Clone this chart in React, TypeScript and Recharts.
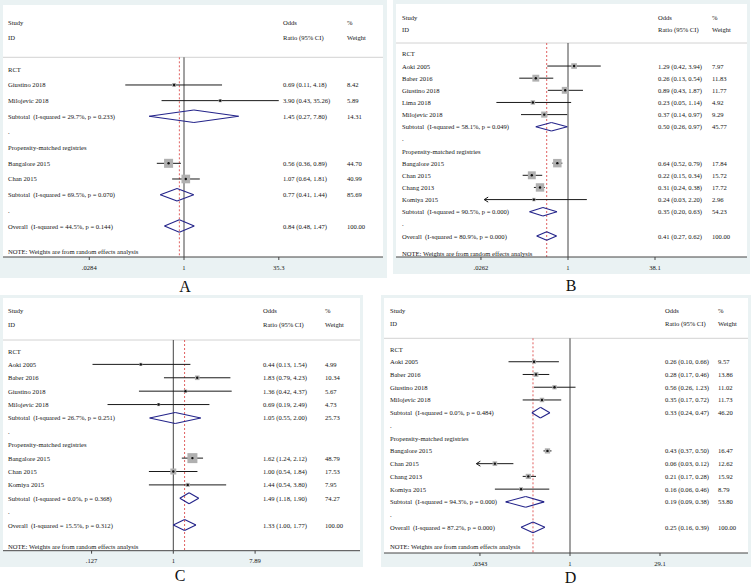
import React from 'react'
import { ComposedChart, XAxis, YAxis, Scatter, ReferenceLine } from 'recharts'

// panel A
const A_LABELS = ['RCT', 'Giustino 2018', 'Milojevic 2018', 'Subtotal  (I-squared = 29.7%, p = 0.233)', '.', 'Propensity-matched registries', 'Bangalore 2015', 'Chan 2015', 'Subtotal  (I-squared = 69.5%, p = 0.070)', '.', 'Overall  (I-squared = 44.5%, p = 0.144)']
const A_OR = [null, 0.69, 3.9, 1.45, null, null, 0.56, 1.07, 0.77, null, 0.84]
const A_LO = [null, 0.11, 0.43, 0.27, null, null, 0.36, 0.64, 0.41, null, 0.48]
const A_HI = [null, 4.18, 35.26, 7.8, null, null, 0.89, 1.81, 1.44, null, 1.47]
const A_WT = [null, 8.42, 5.89, 14.31, null, null, 44.7, 40.99, 85.69, null, 100]
const A_TICKS = [0.0284, 1, 35.3]
const A_TICK_LABELS = ['.0284', '1', '35.3']

// panel B
const B_LABELS = ['RCT', 'Aoki 2005', 'Baber 2016', 'Giustino 2018', 'Lima 2018', 'Milojevic 2018', 'Subtotal  (I-squared = 58.1%, p = 0.049)', '.', 'Propensity-matched registries', 'Bangalore 2015', 'Chan 2015', 'Chang 2013', 'Komiya 2015', 'Subtotal  (I-squared = 90.5%, p = 0.000)', '.', 'Overall  (I-squared = 80.9%, p = 0.000)']
const B_OR = [null, 1.29, 0.26, 0.89, 0.23, 0.37, 0.5, null, null, 0.64, 0.22, 0.31, 0.24, 0.35, null, 0.41]
const B_LO = [null, 0.42, 0.13, 0.43, 0.05, 0.14, 0.26, null, null, 0.52, 0.15, 0.24, 0.03, 0.2, null, 0.27]
const B_HI = [null, 3.94, 0.54, 1.87, 1.14, 0.97, 0.97, null, null, 0.79, 0.34, 0.38, 2.2, 0.63, null, 0.62]
const B_WT = [null, 7.97, 11.83, 11.77, 4.92, 9.29, 45.77, null, null, 17.84, 15.72, 17.72, 2.96, 54.23, null, 100]
const B_TICKS = [0.0262, 1, 38.1]
const B_TICK_LABELS = ['.0262', '1', '38.1']
const B_CLIPPED = ['Komiya 2015']

// panel C
const C_LABELS = ['RCT', 'Aoki 2005', 'Baber 2016', 'Giustino 2018', 'Milojevic 2018', 'Subtotal  (I-squared = 26.7%, p = 0.251)', '.', 'Propensity-matched registries', 'Bangalore 2015', 'Chan 2015', 'Komiya 2015', 'Subtotal  (I-squared = 0.0%, p = 0.368)', '.', 'Overall  (I-squared = 15.5%, p = 0.312)']
const C_OR = [null, 0.44, 1.83, 1.36, 0.69, 1.05, null, null, 1.62, 1.0, 1.44, 1.49, null, 1.33]
const C_LO = [null, 0.13, 0.79, 0.42, 0.19, 0.55, null, null, 1.24, 0.54, 0.54, 1.18, null, 1.0]
const C_HI = [null, 1.54, 4.23, 4.37, 2.49, 2.0, null, null, 2.12, 1.84, 3.8, 1.9, null, 1.77]
const C_WT = [null, 4.99, 10.34, 5.67, 4.73, 25.73, null, null, 48.79, 17.53, 7.95, 74.27, null, 100]
const C_TICKS = [0.127, 1, 7.89]
const C_TICK_LABELS = ['.127', '1', '7.89']

// panel D
const D_LABELS = ['RCT', 'Aoki 2005', 'Baber 2016', 'Giustino 2018', 'Milojevic 2018', 'Subtotal  (I-squared = 0.0%, p = 0.484)', '.', 'Propensity-matched registries', 'Bangalore 2015', 'Chan 2015', 'Chang 2013', 'Komiya 2015', 'Subtotal  (I-squared = 94.3%, p = 0.000)', '.', 'Overall  (I-squared = 87.2%, p = 0.000)']
const D_OR = [null, 0.26, 0.28, 0.56, 0.35, 0.33, null, null, 0.43, 0.06, 0.21, 0.16, 0.19, null, 0.25]
const D_LO = [null, 0.1, 0.17, 0.26, 0.17, 0.24, null, null, 0.37, 0.03, 0.17, 0.06, 0.09, null, 0.16]
const D_HI = [null, 0.66, 0.46, 1.23, 0.72, 0.47, null, null, 0.5, 0.12, 0.28, 0.46, 0.38, null, 0.39]
const D_WT = [null, 9.57, 13.86, 11.02, 11.73, 46.2, null, null, 16.47, 12.62, 15.92, 8.79, 53.8, null, 100]
const D_TICKS = [0.0343, 1, 29.1]
const D_TICK_LABELS = ['.0343', '1', '29.1']
const D_CLIPPED = ['Chan 2015']

const NOTE = 'NOTE: Weights are from random effects analysis'

// page-pixel layout of each panel
const LAYOUT = {
  A: { left: 0, top: 0, width: 387, height: 278, pl: 3, pr: 383, pt: 5, pb: 257, row0: 69.3, rowH: 15.67, headY: 57.3, noteY: 251.7, nullX: 184, pxPerLn: 26.6, cols: [8, 283, 347], box: 1.35, dia: 0.4, letter: [185, 287], name: 'A' },
  B: { left: 393, top: 0, width: 357, height: 274, pl: 396, pr: 747, pt: 4, pb: 257, row0: 53.9, rowH: 12.14, headY: 43, noteY: 253, nullX: 568, pxPerLn: 23.9, cols: [402, 658, 712], box: 2.0, dia: 0.35, letter: [571, 286], name: 'B' },
  C: { left: 0, top: 295, width: 363, height: 272, pl: 3, pr: 360, pt: 298, pb: 550.7, row0: 351, rowH: 13.39, headY: 340, noteY: 546.5, nullX: 173.3, pxPerLn: 39.6, cols: [8, 263, 325], box: 1.43, dia: 0.41, letter: [180, 576], name: 'C' },
  D: { left: 381, top: 295, width: 370, height: 272, pl: 384, pr: 748, pt: 298, pb: 553, row0: 349, rowH: 12.74, headY: 338.3, noteY: 546.7, nullX: 570, pxPerLn: 26.7, cols: [390, 665, 718], box: 1.3, dia: 0.42, letter: [570.5, 578], name: 'D' },
}

const FONT = '"Liberation Serif", "Times New Roman", serif'
const TXT = '#151515'
const NAVY = '#24248a'
const BAND = '#eaf2f3'

const ln = Math.log
const f2 = (v: number) => v.toFixed(2)

function ForestPanel({ lay, labels, or, lo, hi, wt, ticks, tickLabels, clipped = [] }: any) {
  const toRow = (py: number) => (py - lay.row0) / lay.rowH
  const xMin = (lay.pl - lay.nullX) / lay.pxPerLn
  const xMax = (lay.pr - lay.nullX) / lay.pxPerLn
  const yMin = toRow(lay.pt)
  const yMax = toRow(lay.pb)
  const headRow = toRow(lay.headY)
  const noteRow = toRow(lay.noteY)
  const cols = lay.cols.map((c: number) => c - lay.left)

  const isPooled = (l: string) => l.startsWith('Subtotal') || l.startsWith('Overall')
  const studies: any[] = []
  const pooled: any[] = []
  labels.forEach((l: string, i: number) => {
    if (or[i] == null) return
    const d = { x: ln(or[i]), y: i, lo: ln(lo[i]), hi: ln(hi[i]), w: wt[i], clip: clipped.includes(l) }
    if (isPooled(l)) pooled.push(d)
    else studies.push(d)
  })
  const overall = pooled[pooled.length - 1]

  // text rows, placed vertically through the y scale
  const textRows = [
    { y: -3, a: 'Study', b: 'Odds', c: '%' },
    { y: -2, a: 'ID', b: 'Ratio (95% CI)', c: 'Weight' },
    ...labels.map((l: string, i: number) => ({
      y: i,
      a: l,
      b: or[i] == null ? '' : `${f2(or[i])} (${f2(lo[i])}, ${f2(hi[i])})`,
      c: wt[i] == null ? '' : f2(wt[i]),
    })),
    { y: noteRow, a: NOTE, b: '', c: '' },
  ].map((t) => ({ ...t, x: xMin }))

  const txtProps = { fontFamily: FONT, fontSize: 6.6, fill: TXT, dominantBaseline: 'central' as const, style: { whiteSpace: 'pre' as const } }

  const RowText = (p: any) => {
    const row = p.payload
    return (
      <g>
        <text x={cols[0]} y={p.cy} {...txtProps}>{row.a}</text>
        {row.b && <text x={cols[1]} y={p.cy} {...txtProps}>{row.b}</text>}
        {row.c && <text x={cols[2]} y={p.cy} {...txtProps}>{row.c}</text>}
      </g>
    )
  }

  const ml = lay.pl - lay.left
  const mr = lay.left + lay.width - lay.pr
  const mt = lay.pt - lay.top
  const xh = lay.top + lay.height - lay.pb

  return (
    <div style={{ position: 'absolute', left: lay.left, top: lay.top, width: lay.width, height: lay.height, background: BAND }}>
      <div style={{ position: 'absolute', left: ml, top: mt, width: lay.pr - lay.pl, height: lay.pb - lay.pt, background: '#fff' }} />
      <div style={{ position: 'absolute', left: 0, top: 0 }}>
        <ComposedChart width={lay.width} height={lay.height} margin={{ top: mt, right: mr, left: ml, bottom: 0 }}>
          <XAxis
            type="number"
            dataKey="x"
            domain={[xMin, xMax]}
            allowDataOverflow
            ticks={ticks.map((t: number) => ln(t))}
            tickFormatter={(_v: number, i: number) => tickLabels[i]}
            height={xh}
            axisLine={{ stroke: '#444' }}
            tickLine={{ stroke: '#444' }}
            tickSize={3}
            tickMargin={5}
            interval={0}
            tick={{ fontSize: 6.6, fill: TXT, fontFamily: FONT }}
          />
          <YAxis type="number" dataKey="y" domain={[yMin, yMax]} reversed allowDataOverflow hide />
          <ReferenceLine y={headRow} stroke="#d2d2d2" ifOverflow="visible" />
          <Scatter data={textRows} isAnimationActive={false} shape={RowText} />
          <Scatter
            data={studies}
            isAnimationActive={false}
            shape={(p: any) => {
              const s = lay.box * Math.sqrt(p.payload.w)
              return <rect x={p.cx - s / 2} y={p.cy - s / 2} width={s} height={s} fill="#b0b0b0" />
            }}
          />
          <ReferenceLine segment={[{ x: 0, y: headRow }, { x: 0, y: yMax }]} stroke="#444" ifOverflow="visible" />
          <ReferenceLine segment={[{ x: overall.x, y: headRow }, { x: overall.x, y: yMax }]} stroke="#e06060" strokeDasharray="2 2" ifOverflow="visible" />
          {studies.map((d) => (
            <ReferenceLine key={'ci' + d.y} segment={[{ x: d.lo, y: d.y }, { x: d.hi, y: d.y }]} stroke="#1a1a1a" ifOverflow="visible" />
          ))}
          {pooled.flatMap((d) => {
            const h = lay.dia
            const pts = [
              { x: d.lo, y: d.y },
              { x: d.x, y: d.y - h },
              { x: d.hi, y: d.y },
              { x: d.x, y: d.y + h },
            ]
            return pts.map((p0, k) => {
              const p1 = pts[(k + 1) % 4]
              return <ReferenceLine key={`dm${d.y}-${k}`} segment={[p0, p1]} stroke={NAVY} strokeWidth={1.1} ifOverflow="visible" />
            })
          })}
          <Scatter
            data={studies}
            isAnimationActive={false}
            shape={(p: any) => <circle cx={p.cx} cy={p.cy} r={1.2} fill="#111" />}
          />
          <Scatter
            data={studies.filter((d) => d.clip).map((d) => ({ x: d.lo, y: d.y }))}
            isAnimationActive={false}
            shape={(p: any) => (
              <path d={`M${p.cx + 4},${p.cy - 2.5} L${p.cx},${p.cy} L${p.cx + 4},${p.cy + 2.5}`} stroke="#1a1a1a" fill="none" strokeWidth={1} />
            )}
          />
        </ComposedChart>
      </div>
    </div>
  )
}

function Letter({ lay }: any) {
  return (
    <div
      style={{
        position: 'absolute',
        left: lay.letter[0] - 20,
        top: lay.letter[1] - 10,
        width: 40,
        textAlign: 'center',
        fontFamily: FONT,
        fontSize: 16,
        lineHeight: '20px',
        color: '#111',
      }}
    >
      {lay.name}
    </div>
  )
}

export default function App() {
  return (
    <div style={{ position: 'absolute', left: 0, top: 0, width: 751, height: 586, background: '#fff', overflow: 'hidden' }}>
      <ForestPanel lay={LAYOUT.A} labels={A_LABELS} or={A_OR} lo={A_LO} hi={A_HI} wt={A_WT} ticks={A_TICKS} tickLabels={A_TICK_LABELS} />
      <ForestPanel lay={LAYOUT.B} labels={B_LABELS} or={B_OR} lo={B_LO} hi={B_HI} wt={B_WT} ticks={B_TICKS} tickLabels={B_TICK_LABELS} clipped={B_CLIPPED} />
      <ForestPanel lay={LAYOUT.C} labels={C_LABELS} or={C_OR} lo={C_LO} hi={C_HI} wt={C_WT} ticks={C_TICKS} tickLabels={C_TICK_LABELS} />
      <ForestPanel lay={LAYOUT.D} labels={D_LABELS} or={D_OR} lo={D_LO} hi={D_HI} wt={D_WT} ticks={D_TICKS} tickLabels={D_TICK_LABELS} clipped={D_CLIPPED} />
      <Letter lay={LAYOUT.A} />
      <Letter lay={LAYOUT.B} />
      <Letter lay={LAYOUT.C} />
      <Letter lay={LAYOUT.D} />
    </div>
  )
}
